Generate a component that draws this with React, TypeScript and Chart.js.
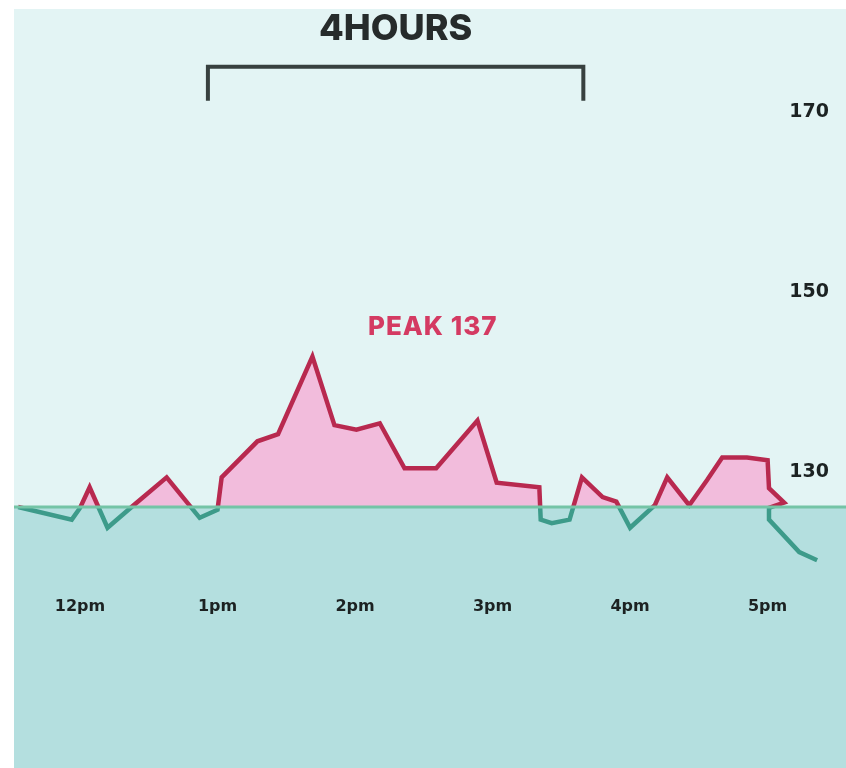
import React, { useEffect, useRef } from "react";
import { Chart, registerables } from "chart.js";

Chart.register(...registerables);

// Time axis: hours after 12pm
const hours = [
  -0.45, -0.06, 0.0, 0.07, 0.2, 0.39, 0.63, 0.87, 1.0, 1.03, 1.29, 1.44, 1.69,
  1.85, 2.01, 2.18, 2.36, 2.59, 2.89, 3.03, 3.34, 3.35, 3.43, 3.56, 3.65, 3.8,
  3.9, 4.0, 4.18, 4.27, 4.43, 4.56, 4.67, 4.85, 5.0, 5.01, 5.12, 5.01, 5.01,
  5.23, 5.36,
];
const glucose = [
  126.1, 124.7, 126.0, 128.3, 123.8, 126.3, 129.4, 124.9, 125.8, 129.4, 133.4,
  134.2, 142.8, 135.2, 134.7, 135.4, 130.4, 130.4, 135.7, 128.8, 128.3, 124.7,
  124.3, 124.7, 129.4, 127.2, 126.7, 123.8, 126.3, 129.4, 126.3, 129.1, 131.6,
  131.6, 131.3, 128.2, 126.6, 126.0, 124.7, 121.1, 120.2,
];

const tickHours = [0, 1, 2, 3, 4, 5];
const tickLabels = ["12pm", "1pm", "2pm", "3pm", "4pm", "5pm"];
const yTicks = [130, 150, 170];
const threshold = 126.1;

const bracketStart = 0.93;
const bracketEnd = 3.66;
const bracketTop = 175;
const bracketLegEnd = 171.2;
const titleText = "4HOURS";
const titleValue = 179.2;
const peakText = "PEAK 137";
const peakTextHour = 2.565;
const peakTextValue = 146.1;

const RED = "#b8294f";
const TEAL = "#3d9b8a";

const decor = {
  id: "decor",
  beforeDraw(chart: any) {
    const { ctx, width, height, scales } = chart;
    const ty = scales.y.getPixelForValue(threshold);
    ctx.save();
    ctx.fillStyle = "#e3f4f4";
    ctx.fillRect(0, 0, width, height);
    ctx.fillStyle = "#b4dfdf";
    ctx.fillRect(0, ty, width, height - ty);
    ctx.restore();
  },
  afterDatasetsDraw(chart: any) {
    const { ctx, width, scales } = chart;
    const ty = scales.y.getPixelForValue(threshold);
    ctx.save();
    ctx.strokeStyle = "#74c4a6";
    ctx.lineWidth = 3;
    ctx.beginPath();
    ctx.moveTo(0, ty);
    ctx.lineTo(width, ty);
    ctx.stroke();
    ctx.restore();
  },
  afterDraw(chart: any) {
    const { ctx, scales } = chart;
    const { x, y } = scales;
    const x1 = x.getPixelForValue(bracketStart);
    const x2 = x.getPixelForValue(bracketEnd);
    const yt = y.getPixelForValue(bracketTop);
    const yl = y.getPixelForValue(bracketLegEnd);
    ctx.save();
    ctx.strokeStyle = "#37403f";
    ctx.lineWidth = 4;
    ctx.lineJoin = "miter";
    ctx.beginPath();
    ctx.moveTo(x1, yl);
    ctx.lineTo(x1, yt);
    ctx.lineTo(x2, yt);
    ctx.lineTo(x2, yl);
    ctx.stroke();

    ctx.textAlign = "center";
    ctx.textBaseline = "middle";
    ctx.fillStyle = "#262b2b";
    ctx.font = "800 36px Inter";
    ctx.fillText(titleText, (x1 + x2) / 2, y.getPixelForValue(titleValue));

    ctx.fillStyle = "#d43a62";
    ctx.font = "800 26px Inter";
    (ctx as any).letterSpacing = "1px";
    ctx.fillText(
      peakText,
      x.getPixelForValue(peakTextHour),
      y.getPixelForValue(peakTextValue)
    );
    ctx.restore();
  },
};

export default function App() {
  const ref = useRef<HTMLCanvasElement | null>(null);

  useEffect(() => {
    if (!ref.current) return;
    const chart = new Chart(ref.current, {
      type: "line",
      data: {
        datasets: [
          {
            data: hours.map((h, i) => ({ x: h, y: glucose[i] })),
            borderWidth: 4.5,
            tension: 0,
            pointRadius: 0,
            borderJoinStyle: "miter",
            borderColor: (ctx: any) => {
              const c = ctx.chart;
              const area = c.chartArea;
              if (!area) return RED;
              const ty = c.scales.y.getPixelForValue(threshold);
              const g = c.ctx.createLinearGradient(0, area.top, 0, area.bottom);
              const s = Math.min(1, Math.max(0, (ty - area.top) / (area.bottom - area.top)));
              g.addColorStop(0, RED);
              g.addColorStop(s, RED);
              g.addColorStop(s, TEAL);
              g.addColorStop(1, TEAL);
              return g;
            },
            fill: {
              target: { value: threshold },
              above: "#f2bcdc",
              below: "rgba(0,0,0,0)",
            },
          } as any,
        ],
      },
      options: {
        animation: false,
        responsive: true,
        maintainAspectRatio: false,
        layout: { padding: 0 },
        plugins: {
          legend: { display: false },
          tooltip: { enabled: false },
          title: { display: false },
        },
        scales: {
          x: {
            type: "linear",
            min: -0.48,
            max: 5.57,
            grid: { display: false, drawTicks: false },
            border: { display: false },
            afterFit: (s: any) => {
              s.height = 188;
            },
            afterBuildTicks: (s: any) => {
              s.ticks = tickHours.map((v) => ({ value: v }));
            },
            ticks: {
              padding: 17,
              maxRotation: 0,
              autoSkip: false,
              color: "#1c2222",
              font: { family: "DejaVu Sans", weight: "bold", size: 16 },
              callback: (v: any) => {
                const i = tickHours.indexOf(Number(v));
                return i >= 0 ? tickLabels[i] : "";
              },
            },
          },
          y: {
            type: "linear",
            position: "right",
            min: 118,
            max: 181.4,
            grid: { display: false, drawTicks: false },
            border: { display: false },
            afterFit: (s: any) => {
              s.width = 0;
              s.paddingTop = 0;
              s.paddingBottom = 0;
            },
            afterBuildTicks: (s: any) => {
              s.ticks = yTicks.map((v) => ({ value: v }));
            },
            ticks: {
              mirror: true,
              padding: -17,
              color: "#1c2222",
              font: { family: "DejaVu Sans", weight: "bold", size: 19 },
            },
          },
        },
      },
      plugins: [decor],
    });
    return () => chart.destroy();
  }, []);

  return (
    <div
      style={{
        position: "fixed",
        left: 14,
        top: 9,
        width: 832,
        height: 759,
      }}
    >
      <canvas ref={ref} />
    </div>
  );
}
